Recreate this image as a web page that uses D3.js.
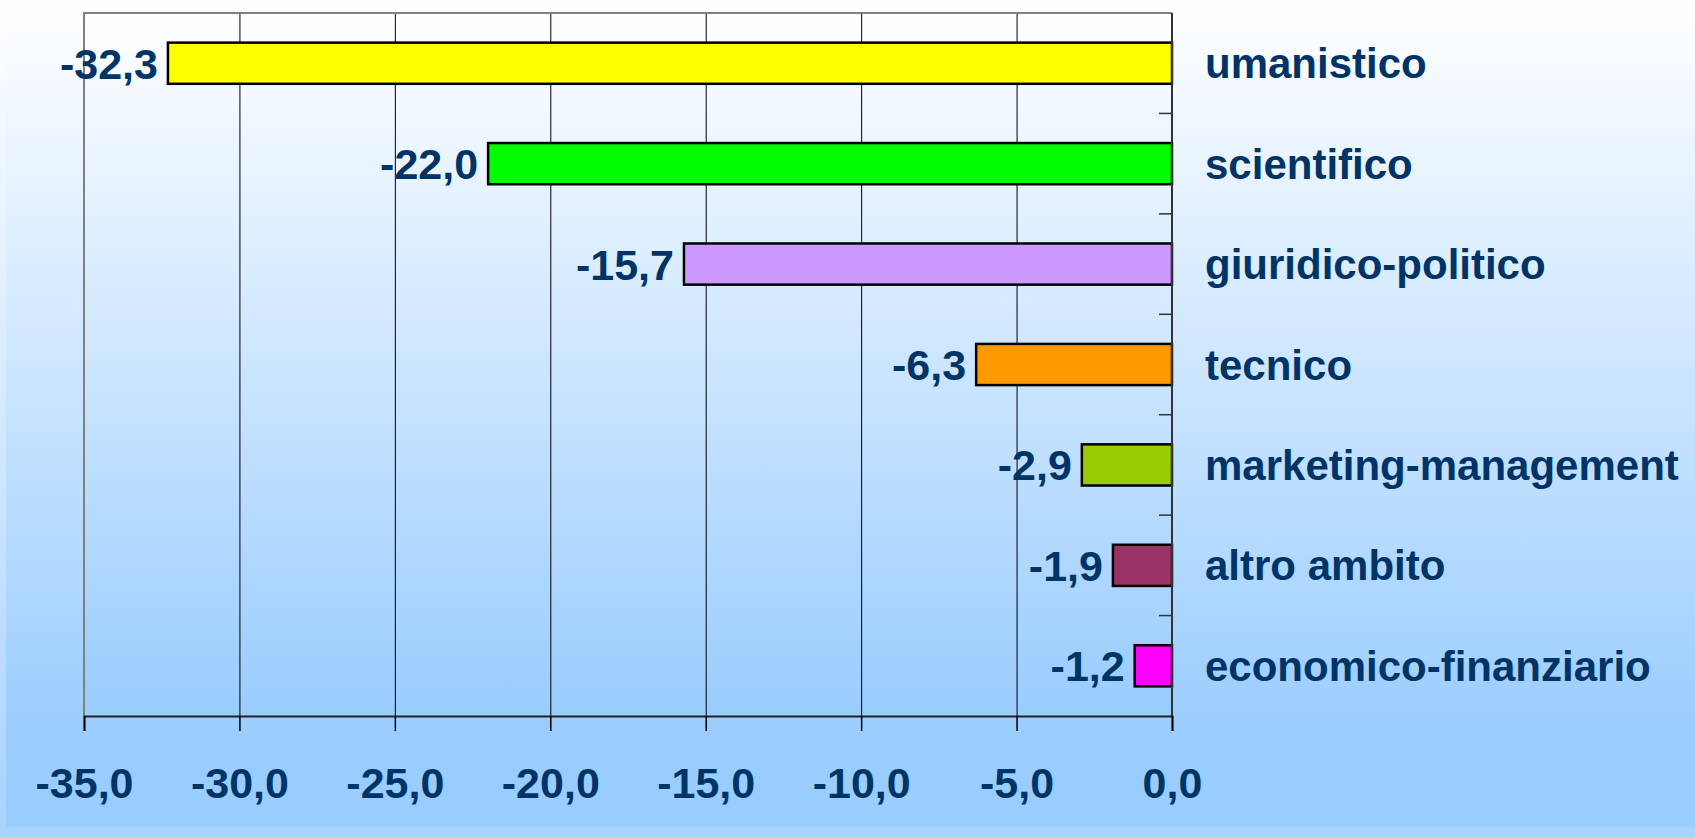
<!DOCTYPE html>
<html>
<head>
<meta charset="utf-8">
<script src="https://cdn.jsdelivr.net/npm/d3@7"></script>
<style>
  html, body { margin: 0; padding: 0; }
  body { width: 1695px; height: 837px; overflow: hidden; background: linear-gradient(#ffffff, #a8d2ff); }
  svg { display: block; }
  text { font-family: "Liberation Sans", Arial, sans-serif; font-weight: bold; fill: #003366; }
</style>
</head>
<body>
<div id="chart"></div>
<script>
// data
var categories = ["umanistico", "scientifico", "giuridico-politico", "tecnico",
                  "marketing-management", "altro ambito", "economico-finanziario"];
var values = [-32.3, -22.0, -15.7, -6.3, -2.9, -1.9, -1.2];
var barColors = ["#FFFF00", "#00FF00", "#CC99FF", "#FF9900", "#99CC00", "#993366", "#FF00FF"];
var xTicks = [-35, -30, -25, -20, -15, -10, -5, 0];

var W = 1695, H = 837;
var plot = {left: 84, right: 1172, top: 13, bottom: 716};

// italian style numbers, plain hyphen as minus
var it = d3.formatLocale({decimal: ",", thousands: ".", grouping: [3], currency: ["€", ""], minus: "-"});
var fmt = it.format(".1f");

var svg = d3.select("#chart").append("svg")
    .attr("width", W)
    .attr("height", H);

var defs = svg.append("defs");
var g1 = defs.append("linearGradient").attr("id", "bgGrad")
    .attr("x1", 0).attr("y1", 0).attr("x2", 0).attr("y2", 1);
g1.append("stop").attr("offset", "0").attr("stop-color", "#ffffff");
g1.append("stop").attr("offset", "0.9").attr("stop-color", "#99ccff");
var g2 = defs.append("linearGradient").attr("id", "plotGrad")
    .attr("x1", 0).attr("y1", 0).attr("x2", 0).attr("y2", 1);
g2.append("stop").attr("offset", "0").attr("stop-color", "#ffffff");
g2.append("stop").attr("offset", "1").attr("stop-color", "#99ccff");

// chart area
svg.append("rect")
    .attr("x", 6).attr("y", 0)
    .attr("width", W - 6).attr("height", 827)
    .attr("fill", "url(#bgGrad)");

// plot area
svg.append("rect")
    .attr("x", plot.left).attr("y", plot.top)
    .attr("width", plot.right - plot.left).attr("height", plot.bottom - plot.top)
    .attr("fill", "url(#plotGrad)");

var x = d3.scaleLinear()
    .domain([-35, 0])
    .range([plot.left, plot.right]);

var y = d3.scaleBand()
    .domain(categories)
    .range([plot.top, plot.bottom])
    .paddingInner(0.59)
    .paddingOuter(0.295);

// vertical gridlines
svg.append("g").selectAll("line")
    .data(xTicks.filter(function(d) { return d > -35 && d < 0; }))
    .enter().append("line")
    .attr("x1", function(d) { return x(d) + 0.5; })
    .attr("x2", function(d) { return x(d) + 0.5; })
    .attr("y1", plot.top)
    .attr("y2", plot.bottom)
    .attr("stroke", "#000")
    .attr("stroke-width", 1);

// plot border (gray left/top)
svg.append("path")
    .attr("d", "M" + plot.left + "," + plot.bottom + "V" + plot.top + "H" + plot.right)
    .attr("fill", "none")
    .attr("stroke", "#808080")
    .attr("stroke-width", 2);

// bars
svg.append("g").selectAll("rect")
    .data(values)
    .enter().append("rect")
    .attr("x", function(d) { return x(d); })
    .attr("y", function(d, i) { return y(categories[i]); })
    .attr("width", function(d) { return x(0) - x(d); })
    .attr("height", y.bandwidth())
    .attr("fill", function(d, i) { return barColors[i]; })
    .attr("stroke", "#000")
    .attr("stroke-width", 2.5);

// value labels
svg.append("g").selectAll("text")
    .data(values)
    .enter().append("text")
    .attr("x", function(d) { return x(d) - 10; })
    .attr("y", function(d, i) { return y(categories[i]) + y.bandwidth() / 2; })
    .attr("dy", "0.36em")
    .attr("text-anchor", "end")
    .style("font-size", "43px")
    .text(function(d) { return fmt(d); });

// category axis at x = 0 (right side)
var yAxis = svg.append("g");
yAxis.append("line")
    .attr("x1", plot.right).attr("x2", plot.right)
    .attr("y1", plot.top).attr("y2", plot.bottom)
    .attr("stroke", "#333").attr("stroke-width", 2);
yAxis.selectAll("line.tick")
    .data(d3.range(1, categories.length))
    .enter().append("line")
    .attr("class", "tick")
    .attr("x1", plot.right - 13).attr("x2", plot.right)
    .attr("y1", function(i) { return y(categories[i]) - y.step() * y.paddingInner() / 2; })
    .attr("y2", function(i) { return y(categories[i]) - y.step() * y.paddingInner() / 2; })
    .attr("stroke", "#333").attr("stroke-width", 1.5);

// category labels
svg.append("g").selectAll("text")
    .data(categories)
    .enter().append("text")
    .attr("x", 1205)
    .attr("y", function(d) { return y(d) + y.bandwidth() / 2; })
    .attr("dy", "0.36em")
    .style("font-size", "42px")
    .text(function(d) { return d; });

// value axis
var xAxis = svg.append("g")
    .attr("transform", "translate(0," + plot.bottom + ")")
    .call(d3.axisBottom(x).tickValues(xTicks).tickSize(15).tickPadding(36).tickFormat(fmt));
xAxis.select(".domain").attr("stroke", "#222").attr("stroke-width", 2);
xAxis.selectAll(".tick line").attr("stroke", "#000").attr("stroke-width", 1.5);
xAxis.selectAll(".tick text")
    .attr("fill", "#003366")
    .style("font-family", "'Liberation Sans', Arial, sans-serif")
    .style("font-weight", "bold")
    .style("font-size", "43px");
</script>
</body>
</html>
